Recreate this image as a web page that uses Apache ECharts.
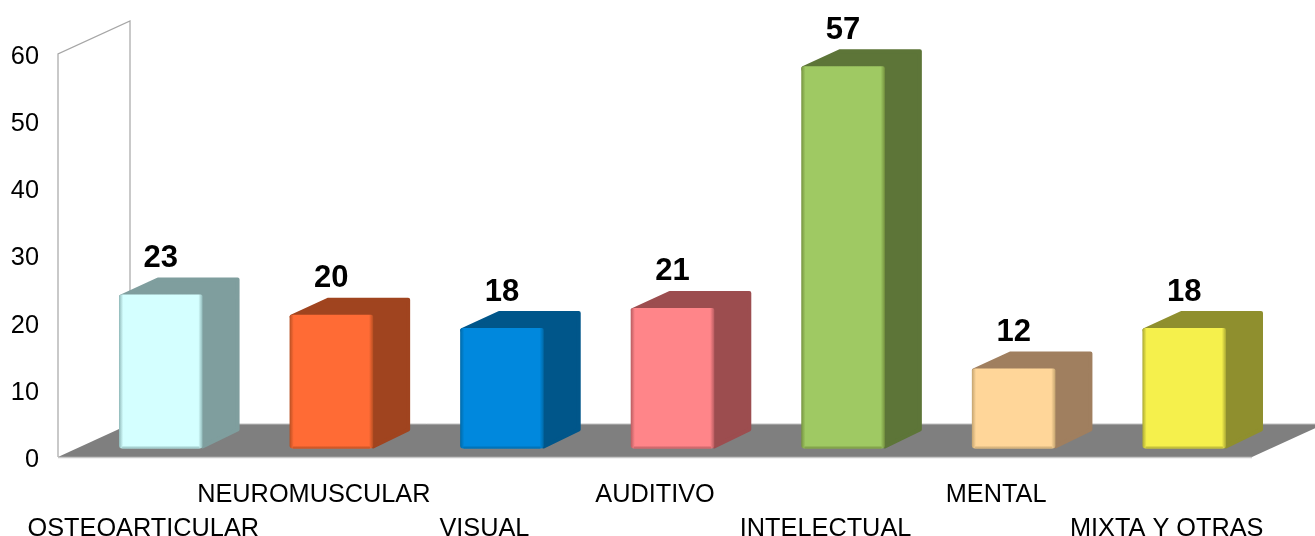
<!DOCTYPE html>
<html><head><meta charset="utf-8">
<style>html,body{margin:0;padding:0;background:#fff}#c{width:1315px;height:536px}</style>
<script src="https://cdn.jsdelivr.net/npm/echarts@6/dist/echarts.min.js"></script>
</head><body><div id="c"></div>
<script>
const categories=['OSTEOARTICULAR','NEUROMUSCULAR','VISUAL','AUDITIVO','INTELECTUAL','MENTAL','MIXTA Y OTRAS'];
const values=[23,20,18,21,57,12,18];
const frontColors=['#d4ffff','#ff6b35','#0088dd','#ff8589','#9fc963','#ffd699','#f5f04c'];
const sideColors=['#7f9e9e','#a0441f','#00568a','#9c4d4f','#5d7538','#a07f5f','#8f8f2e'];
const edgeColors=['#8fb8b8','#b84f22','#006aa8','#b85c60','#75923f','#c4a470','#aaa833'];
const DX=72,DY=33,BDX=37,BDY=17;
const chart=echarts.init(document.getElementById('c'));
function renderFrame(params,api){
  const a=api.coord([0,0]),b=api.coord([0,60]);
  const s=api.size([1,0])[0];
  const x0=a[0]-s/2,x1=x0+s*7,y0=a[1],yt=b[1];
  return {type:'group',silent:true,children:[
    {type:'polyline',shape:{points:[[x0,y0],[x0,yt],[x0+DX,yt-DY],[x0+DX,y0-DY]]},style:{fill:'none',stroke:'#a6a6a6',lineWidth:1.2}},
    {type:'polygon',shape:{points:[[x0,y0],[x0+DX,y0-DY],[x1+DX,y0-DY],[x1,y0]]},style:{fill:'#7f7f7f',stroke:'none'}},
    {type:'line',shape:{x1:x0,y1:y0+0.5,x2:x1,y2:y0+0.5},style:{stroke:'#c8c8c8',lineWidth:1.5}},
    {type:'line',shape:{x1:x0+DX,y1:y0-DY,x2:x1+DX,y2:y0-DY},style:{stroke:'#c0c0c0',lineWidth:1}}
  ]};
}
function renderBar(params,api){
  const i=api.value(0),v=api.value(1);
  const c=api.coord([i,v]),z=api.coord([i,0]);
  const w=api.size([1,0])[0]*0.49;
  const cx=c[0]+17.5,x0=cx-w/2,x1=cx+w/2;
  const top=c[1]-8,bot=z[1]-8.5;
  const k=i;
  return {type:'group',children:[
    {type:'polygon',shape:{points:[[x0+2,top+2],[x0+BDX+2,top-BDY+2],[x1+BDX-2,top-BDY+2],[x1+BDX-2,bot-BDY-2],[x1,bot-2]]},
      style:{fill:sideColors[k],stroke:sideColors[k],lineWidth:4,lineJoin:'round'}},
    {type:'rect',shape:{x:x0,y:top,width:w,height:bot-top,r:[3,2,3,3]},
      style:{fill:{type:'linear',x:0,y:0,x2:1,y2:0,colorStops:[
        {offset:0,color:edgeColors[k]},{offset:0.05,color:frontColors[k]},{offset:0.95,color:frontColors[k]},{offset:1,color:edgeColors[k]}]}}},
    {type:'rect',shape:{x:x0+3,y:bot-3,width:w-6,height:3,r:1},
      style:{fill:{type:'linear',x:0,y:0,x2:0,y2:1,colorStops:[{offset:0,color:frontColors[k]},{offset:1,color:edgeColors[k]}]}}},
    {type:'text',style:{text:String(v),x:cx,y:top-BDY-19,align:'center',verticalAlign:'middle',
      font:'bold 31px "Liberation Sans"',fill:'#000'}}
  ]};
}
chart.setOption({
  animation:false,
  grid:{left:58,right:63,top:54,bottom:79,containLabel:false,outerBoundsMode:'none'},
  xAxis:{type:'category',data:categories,axisLine:{show:false},axisTick:{show:false},splitLine:{show:false},
    axisLabel:{interval:0,hideOverlap:false,margin:21,color:'#000',fontFamily:'Liberation Sans',fontSize:25.3,lineHeight:34,
      formatter:function(n,i){return i%2===0?'\n'+n:n;}}},
  yAxis:{type:'value',min:0,max:60,interval:10,axisLine:{show:false},axisTick:{show:false},splitLine:{show:false},
    axisLabel:{margin:19,color:'#000',fontFamily:'Liberation Sans',fontSize:25.3,verticalAlign:'top',lineHeight:6}},
  series:[
    {type:'custom',clip:false,silent:true,data:[[0,0]],renderItem:renderFrame,z:1,encode:{x:0,y:1}},
    {type:'custom',clip:false,data:values.map((v,i)=>[i,v]),renderItem:renderBar,z:2,encode:{x:0,y:1}}
  ]
});
</script></body></html>
